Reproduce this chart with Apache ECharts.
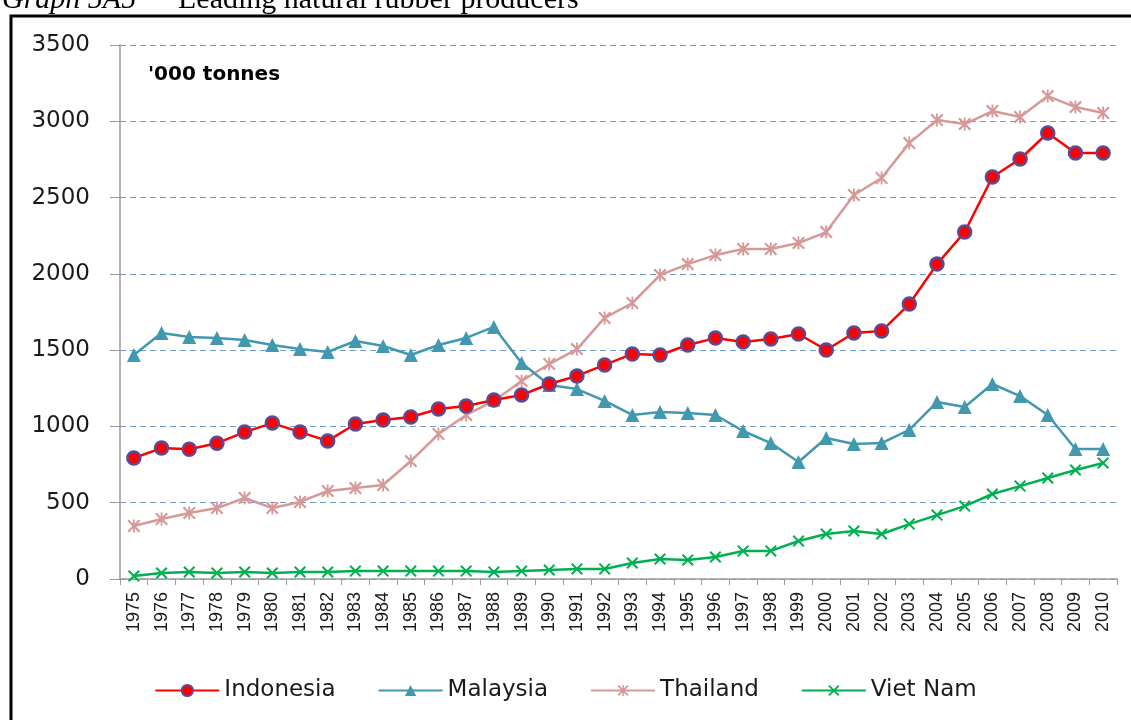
<!DOCTYPE html>
<html>
<head>
<meta charset="utf-8">
<title>Leading natural rubber producers</title>
<script src="https://cdn.jsdelivr.net/npm/echarts@6/dist/echarts.min.js"></script>
<style>
  html, body { margin: 0; padding: 0; background: #fff; }
  #line_chart { width: 1131px; height: 720px; }
</style>
</head>
<body>
<div id="line_chart"></div>
<script>
  const years = ['1975', '1976', '1977', '1978', '1979', '1980', '1981', '1982', '1983', '1984',
    '1985', '1986', '1987', '1988', '1989', '1990', '1991', '1992', '1993', '1994',
    '1995', '1996', '1997', '1998', '1999', '2000', '2001', '2002', '2003', '2004',
    '2005', '2006', '2007', '2008', '2009', '2010']

  // '000 tonnes
  const indonesia = [793, 858, 850, 890, 963, 1022, 963, 905, 1016, 1042,
    1062, 1114, 1134, 1173, 1206, 1278, 1331, 1403, 1475, 1468,
    1534, 1579, 1553, 1573, 1606, 1501, 1612, 1625, 1802, 2064,
    2274, 2635, 2753, 2923, 2792, 2792]
  const malaysia = [1468, 1612, 1586, 1580, 1566, 1534, 1507, 1488, 1560, 1527,
    1468, 1534, 1580, 1652, 1416, 1271, 1245, 1167, 1075, 1094,
    1088, 1075, 970, 891, 767, 924, 885, 891, 977, 1160,
    1127, 1278, 1199, 1075, 852, 852]
  const thailand = [347, 393, 433, 465, 531, 465, 505, 577, 596, 616,
    773, 950, 1075, 1167, 1298, 1409, 1507, 1711, 1809, 1992,
    2064, 2123, 2163, 2163, 2202, 2274, 2517, 2628, 2857, 3008,
    2982, 3067, 3028, 3165, 3093, 3054]
  const vietNam = [20, 39, 46, 39, 46, 39, 46, 46, 52, 52,
    52, 52, 52, 46, 52, 59, 66, 66, 105, 131,
    125, 144, 184, 184, 249, 295, 315, 295, 360, 419,
    478, 557, 609, 662, 714, 760]

  const yTicks = { min: 0, max: 3500, step: 500 }

  // x and asterisk markers, drawn as filled bars
  const crossPath = 'path://M0,1.2L1.2,0L10,8.8L8.8,10ZM8.8,0L10,1.2L1.2,10L0,8.8Z'
  const starPath = crossPath + 'M4.3,0L5.7,0L5.7,10L4.3,10Z'

  const chart = echarts.init(document.getElementById('line_chart'))
  chart.setOption({
    backgroundColor: '#fff',
    animation: false,
    textStyle: { fontFamily: 'DejaVu Sans' },
    graphic: [
      {
        type: 'rect',
        shape: { x: 11, y: 16, width: 1200, height: 800 },
        style: { fill: 'none', stroke: '#000', lineWidth: 3 }
      },
      {
        type: 'text',
        left: 2,
        top: -15,
        style: { text: 'Graph 5A5', font: 'italic 30px "Liberation Serif"', fill: '#000' }
      },
      {
        type: 'text',
        left: 178,
        top: -15,
        style: { text: 'Leading natural rubber producers', font: '30px "Liberation Serif"', fill: '#000' }
      },
      {
        type: 'text',
        left: 148,
        top: 65,
        style: { text: "'000 tonnes", font: 'bold 20px "DejaVu Sans"', fill: '#000' }
      }
    ],
    grid: {
      left: 120,
      right: 14,
      top: 45,
      bottom: 141
    },
    legend: {
      left: 'center',
      top: 674,
      itemWidth: 64,
      itemHeight: 14,
      itemGap: 42,
      textStyle: { fontSize: 23, color: '#1a1a1a', fontFamily: 'DejaVu Sans' },
      data: ['Indonesia', 'Malaysia', 'Thailand', 'Viet Nam']
    },
    xAxis: {
      type: 'category',
      data: years,
      boundaryGap: true,
      axisLine: { lineStyle: { color: '#9a9a9a', width: 1.5 } },
      axisTick: { show: true, interval: 0, length: 6, lineStyle: { color: '#9a9a9a' } },
      axisLabel: {
        interval: 0,
        rotate: 90,
        fontSize: 18,
        fontFamily: 'Liberation Sans',
        color: '#1a1a1a',
        margin: 13
      },
      splitLine: { show: false }
    },
    yAxis: {
      type: 'value',
      min: yTicks.min,
      max: yTicks.max,
      interval: yTicks.step,
      axisLine: { show: true, lineStyle: { color: '#9a9a9a', width: 1.5 } },
      axisTick: { show: true, inside: false, length: 10, lineStyle: { color: '#9a9a9a' } },
      axisLabel: {
        fontSize: 23,
        color: '#1a1a1a',
        margin: 30,
        formatter: (v) => String(v)
      },
      splitLine: {
        show: true,
        lineStyle: { color: '#6f9bd1', type: [6, 4], width: 1 }
      }
    },
    series: [
      {
        name: 'Indonesia',
        type: 'line',
        data: indonesia,
        symbol: 'circle',
        symbolSize: 13,
        lineStyle: { color: '#ff0000', width: 2.5 },
        itemStyle: { color: '#ff0000', borderColor: '#5b4a96', borderWidth: 2.5 },
        z: 4
      },
      {
        name: 'Malaysia',
        type: 'line',
        data: malaysia,
        symbol: 'triangle',
        symbolSize: 14,
        lineStyle: { color: '#4198af', width: 2.5 },
        itemStyle: { color: '#4198af' },
        z: 3
      },
      {
        name: 'Thailand',
        type: 'line',
        data: thailand,
        symbol: starPath,
        symbolSize: 13,
        lineStyle: { color: '#d59a98', width: 2.5 },
        itemStyle: { color: '#d59a98' },
        z: 2
      },
      {
        name: 'Viet Nam',
        type: 'line',
        data: vietNam,
        symbol: crossPath,
        symbolSize: 12,
        lineStyle: { color: '#00b050', width: 2.5 },
        itemStyle: { color: '#00b050' },
        z: 1
      }
    ]
  })
</script>
</body>
</html>
